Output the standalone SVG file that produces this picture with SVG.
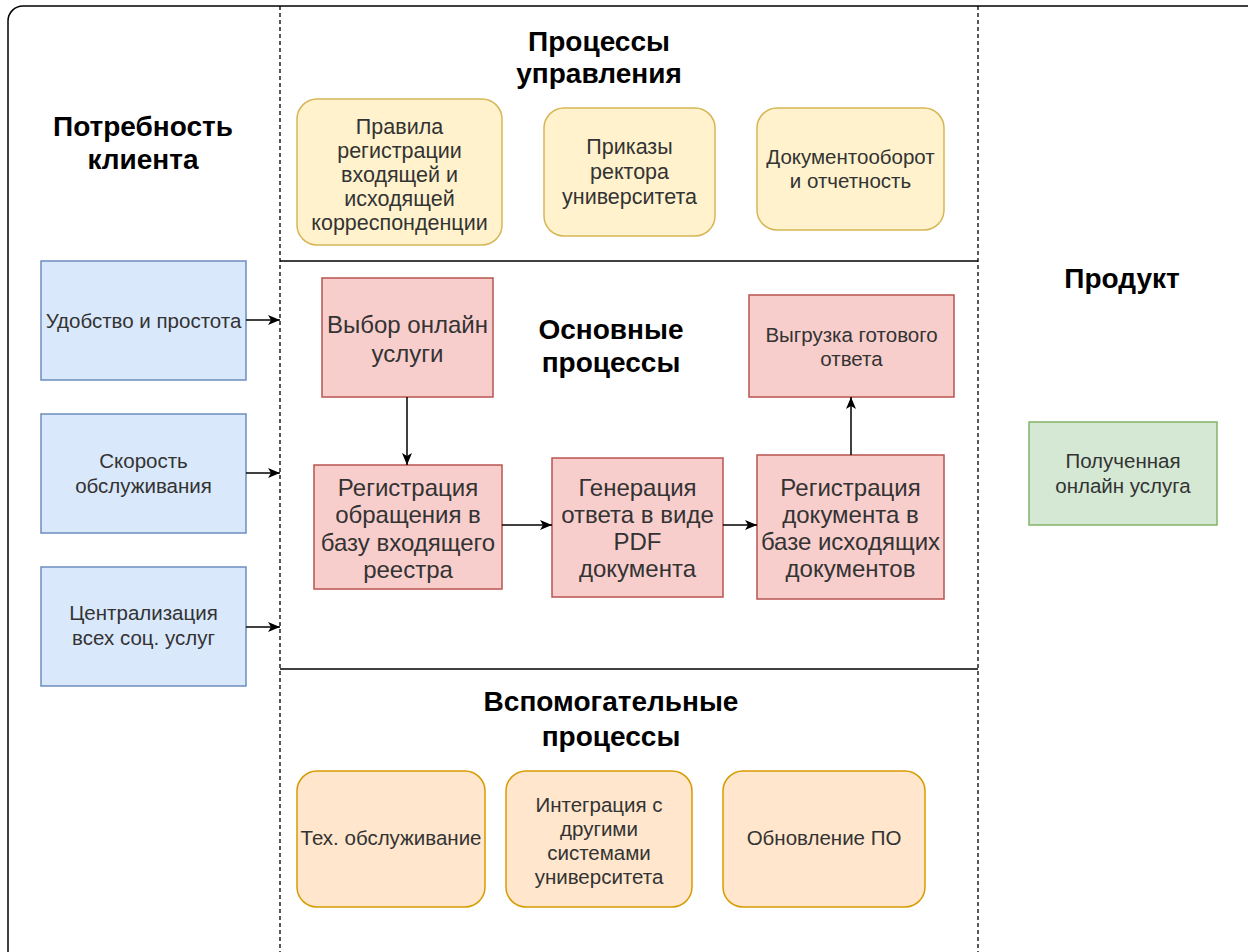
<svg xmlns="http://www.w3.org/2000/svg" width="1248" height="952" viewBox="0 0 1248 952">
<style>
.t{font-family:"Liberation Sans",Arial,sans-serif;font-size:28px;font-weight:bold;fill:#000;text-anchor:middle}
.b{font-family:"Liberation Sans",Arial,sans-serif;fill:#333;text-anchor:middle}
.big{font-size:24px}
.mid{font-size:21.5px}
.sm{font-size:20.5px}
.yel{fill:#fff2cc;stroke:#d6b656;stroke-width:1.5}
.blu{fill:#dae8fc;stroke:#6c8ebf;stroke-width:1.5}
.red{fill:#f8cecc;stroke:#b85450;stroke-width:1.5}
.grn{fill:#d5e8d4;stroke:#82b366;stroke-width:1.5}
.org{fill:#ffe6cc;stroke:#d79b00;stroke-width:1.5}
.dash{stroke:#000;stroke-width:1.3;stroke-dasharray:4 3;fill:none}
.sol{stroke:#000;stroke-width:1.3;fill:none}
.c{stroke:#000;stroke-width:1.5;fill:none;marker-end:url(#ar)}
</style>
<defs>
<marker id="ar" markerUnits="userSpaceOnUse" markerWidth="14" markerHeight="14" viewBox="0 0 14 14" refX="13" refY="7" orient="auto">
<path d="M1,2 L13,7 L1,12 L4,7 z" fill="#000"/>
</marker>
</defs>
<rect x="0" y="0" width="1248" height="952" fill="#fff"/>
<g id="frame">
<rect x="8" y="6" width="1270" height="980" rx="15" ry="15" fill="none" stroke="#000" stroke-width="1.5"/>
<line class="dash" x1="280" y1="6" x2="280" y2="952"/>
<line class="dash" x1="978" y1="6" x2="978" y2="952"/>
<line class="sol" x1="280" y1="261" x2="978" y2="261"/>
<line class="sol" x1="280" y1="669" x2="978" y2="669"/>
</g>
<g id="titles">
<text class="t" x="143" y="136">Потребность</text>
<text class="t" x="143" y="169">клиента</text>
<text class="t" x="599" y="51">Процессы</text>
<text class="t" x="599" y="83">управления</text>
<text class="t" x="611" y="339">Основные</text>
<text class="t" x="611" y="372">процессы</text>
<text class="t" x="1122" y="288">Продукт</text>
<text class="t" x="611" y="711">Вспомогательные</text>
<text class="t" x="611" y="746">процессы</text>
</g>
<g id="n-pravila">
<rect class="yel" x="297" y="99" width="205" height="146" rx="20" ry="20"/>
<text class="b mid" x="399.5"><tspan x="399.5" y="134">Правила</tspan><tspan x="399.5" y="158">регистрации</tspan><tspan x="399.5" y="182">входящей и</tspan><tspan x="399.5" y="206">исходящей</tspan><tspan x="399.5" y="230">корреспонденции</tspan></text>
</g>
<g id="n-prikazy">
<rect class="yel" x="544" y="108" width="171" height="128" rx="20" ry="20"/>
<text class="b mid" x="629.5"><tspan x="629.5" y="154">Приказы</tspan><tspan x="629.5" y="179">ректора</tspan><tspan x="629.5" y="204">университета</tspan></text>
</g>
<g id="n-docs">
<rect class="yel" x="757" y="108" width="187" height="122" rx="20" ry="20"/>
<text class="b sm" x="850.5"><tspan x="850.5" y="164">Документооборот</tspan><tspan x="850.5" y="188">и отчетность</tspan></text>
</g>
<g id="n-udobstvo">
<rect class="blu" x="41" y="261" width="205" height="119"/>
<text class="b sm" x="143.5" y="328">Удобство и простота</text>
</g>
<g id="n-skorost">
<rect class="blu" x="41" y="414" width="205" height="119"/>
<text class="b sm" x="143.5"><tspan x="143.5" y="468">Скорость</tspan><tspan x="143.5" y="493">обслуживания</tspan></text>
</g>
<g id="n-central">
<rect class="blu" x="41" y="567" width="205" height="119"/>
<text class="b sm" x="143.5"><tspan x="143.5" y="620">Централизация</tspan><tspan x="143.5" y="645">всех соц. услуг</tspan></text>
</g>
<g id="n-vybor">
<rect class="red" x="322" y="278" width="171" height="119"/>
<text class="b big" x="407.5"><tspan x="407.5" y="333">Выбор онлайн</tspan><tspan x="407.5" y="362">услуги</tspan></text>
</g>
<g id="n-reg-in">
<rect class="red" x="314" y="465" width="188" height="124"/>
<text class="b big" x="408"><tspan x="408" y="496">Регистрация</tspan><tspan x="408" y="523">обращения в</tspan><tspan x="408" y="551">базу входящего</tspan><tspan x="408" y="578">реестра</tspan></text>
</g>
<g id="n-gen">
<rect class="red" x="552" y="458" width="171" height="139"/>
<text class="b big" x="637.5"><tspan x="637.5" y="496">Генерация</tspan><tspan x="637.5" y="523">ответа в виде</tspan><tspan x="637.5" y="550">PDF</tspan><tspan x="637.5" y="577">документа</tspan></text>
</g>
<g id="n-reg-out">
<rect class="red" x="757" y="455" width="187" height="144"/>
<text class="b big" x="850.5"><tspan x="850.5" y="496">Регистрация</tspan><tspan x="850.5" y="523">документа в</tspan><tspan x="850.5" y="550">базе исходящих</tspan><tspan x="850.5" y="577">документов</tspan></text>
</g>
<g id="n-vygruzka">
<rect class="red" x="749" y="295" width="205" height="102"/>
<text class="b sm" x="851.5"><tspan x="851.5" y="342">Выгрузка готового</tspan><tspan x="851.5" y="366">ответа</tspan></text>
</g>
<g id="n-product">
<rect class="grn" x="1029" y="422" width="188" height="103"/>
<text class="b sm" x="1123"><tspan x="1123" y="468">Полученная</tspan><tspan x="1123" y="493">онлайн услуга</tspan></text>
</g>
<g id="n-tech">
<rect class="org" x="297" y="771" width="188" height="136" rx="20" ry="20"/>
<text class="b sm" x="391" y="845">Тех. обслуживание</text>
</g>
<g id="n-integr">
<rect class="org" x="506" y="771" width="186" height="136" rx="20" ry="20"/>
<text class="b sm" x="599"><tspan x="599" y="812">Интеграция с</tspan><tspan x="599" y="836">другими</tspan><tspan x="599" y="860">системами</tspan><tspan x="599" y="884">университета</tspan></text>
</g>
<g id="n-update">
<rect class="org" x="723" y="771" width="202" height="136" rx="20" ry="20"/>
<text class="b sm" x="824" y="845">Обновление ПО</text>
</g>
<g id="connectors">
<path class="c" d="M246,320 L280,320"/>
<path class="c" d="M246,473 L280,473"/>
<path class="c" d="M246,627 L280,627"/>
<path class="c" d="M407,397 L407,465"/>
<path class="c" d="M502,525 L552,525"/>
<path class="c" d="M723,525 L757,525"/>
<path class="c" d="M851,455 L851,397"/>
</g>
</svg>
